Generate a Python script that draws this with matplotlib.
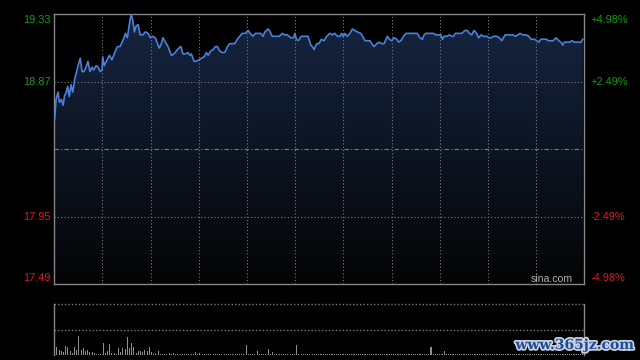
import matplotlib
matplotlib.use("Agg")
import matplotlib.pyplot as plt
import numpy as np
from matplotlib.patches import PathPatch
from matplotlib import patheffects

# 分時データ
minutes = [0, 0.6, 1.5, 2.1, 3.0, 3.8, 4.5, 5.1, 5.9, 6.6, 7.4, 8.2, 9.1, 9.8, 10.6, 11.6, 12.4, 13.3,
           14.2, 15.1, 16.0, 17.0, 17.7, 18.8, 19.7, 20.7, 21.5, 21.8, 22.5, 23.8, 24.8, 26.0, 27.3,
           28.5, 29.7, 30.6, 31.5, 32.1, 33.0, 33.9, 34.7, 35.5, 36.2, 37.0, 37.9, 38.8, 40.0, 41.2,
           42.4, 43.5, 44.5, 45.7, 46.5, 47.5,
           48.2, 49.2, 50.3, 51.5, 53.0, 54.2, 55.3, 56.4, 57.3, 58.3, 59.4, 60.6, 61.4, 62.1, 63.3,
           64.4, 65.5, 66.6, 67.9, 68.9, 69.7, 70.9, 72.0, 73.0, 73.9, 75.0, 76.0, 77.3, 78.5, 79.5,
           80.6, 81.8, 83.0, 84.1, 85.1, 86.0, 86.6, 87.9, 88.8, 90.1, 91.2, 92.4, 93.6, 94.7, 95.5,
           97.0, 97.9, 98.9, 100.5, 102.0, 103.5, 104.5, 105.7, 107.3, 108.5, 109.2, 109.8, 110.7,
           112.1, 113.3, 115.1, 116.4, 117.1, 117.9, 119.1, 120.1, 121.2, 122.4, 123.6, 125.1, 126.2,
           127.3, 128.5, 129.7, 130.3, 131.2, 131.8, 133.0, 134.2, 135.3, 136.4, 137.5, 139.1, 140.3,
           141.0, 142.1, 143.3, 144.1,
           145.1, 146.4, 147.5, 148.6, 149.7, 151.2, 152.1, 153.2, 154.2, 155.5, 156.2, 157.3, 158.5,
           159.7, 161.2, 162.7, 163.8, 164.8, 166.0, 167.1, 167.9, 168.8, 169.8, 170.9, 172.1, 173.3,
           174.4, 175.5, 176.2, 177.0, 178.2, 179.4, 180.5, 181.2, 182.1, 183.5, 185.0, 186.5, 187.5,
           188.5, 189.5, 190.6, 191.8,
           192.7, 193.8, 194.8, 196.4, 197.3, 198.3, 199.4, 200.9, 202.1, 203.2, 203.9, 204.8, 206.4,
           208.2, 209.4, 210.5, 211.5, 212.7, 214.2, 215.5, 216.5, 218.0, 219.1, 220.0, 221.0, 222.1,
           223.3, 224.5, 225.6, 226.6, 227.9, 229.1, 230.1, 230.9, 231.6, 232.7, 233.9, 235.1, 236.2,
           237.0, 238.2, 239.2, 240.0]
prices = [18.62, 18.75, 18.80, 18.73, 18.75, 18.71, 18.78, 18.79, 18.84, 18.77, 18.85, 18.80, 18.89,
          18.93, 18.98, 19.03, 18.94, 18.94, 18.97, 19.01, 18.94, 18.97, 18.95, 18.98, 18.97, 18.94,
          18.95, 19.04, 18.98, 19.02, 19.05, 19.02, 19.07, 19.11, 19.11, 19.14, 19.17, 19.20, 19.17,
          19.26, 19.33, 19.29, 19.21, 19.25, 19.26, 19.19, 19.19, 19.21, 19.20, 19.17, 19.18, 19.17,
          19.14, 19.10,
          19.12, 19.17, 19.14, 19.11, 19.05, 19.06, 19.08, 19.10, 19.11, 19.06, 19.06, 19.07, 19.05,
          19.06, 19.01, 19.01, 19.02, 19.03, 19.04, 19.07, 19.05, 19.08, 19.09, 19.11, 19.11, 19.08,
          19.07, 19.07, 19.11, 19.13, 19.13, 19.13, 19.16, 19.18, 19.20, 19.20, 19.20, 19.22, 19.20,
          19.18, 19.20, 19.20, 19.20, 19.18, 19.21,
          19.23, 19.21, 19.18, 19.18, 19.18, 19.20, 19.19, 19.19, 19.17, 19.17, 19.20, 19.16, 19.15,
          19.18, 19.18, 19.18, 19.12, 19.11, 19.09, 19.13, 19.13, 19.16, 19.15, 19.18, 19.20, 19.19,
          19.20, 19.18, 19.18, 19.20, 19.18, 19.20, 19.18, 19.20, 19.23, 19.22, 19.21, 19.20, 19.17,
          19.15, 19.15, 19.15, 19.13,
          19.11, 19.13, 19.14, 19.13, 19.13, 19.18, 19.16, 19.15, 19.17, 19.16, 19.14, 19.15, 19.18,
          19.20, 19.20, 19.20, 19.20, 19.20, 19.17, 19.16, 19.19, 19.20, 19.20, 19.20, 19.20, 19.19,
          19.19, 19.19, 19.16, 19.18, 19.18, 19.19, 19.18, 19.18, 19.20, 19.20, 19.20, 19.22, 19.22,
          19.20, 19.19, 19.22, 19.20,
          19.17, 19.19, 19.18, 19.18, 19.17, 19.17, 19.18, 19.18, 19.17, 19.15, 19.17, 19.19, 19.19,
          19.19, 19.18, 19.19, 19.20, 19.19, 19.19, 19.18, 19.16, 19.16, 19.15, 19.14, 19.16, 19.16,
          19.16, 19.15, 19.15, 19.15, 19.17, 19.15, 19.14, 19.12, 19.14, 19.14, 19.14, 19.15, 19.14,
          19.14, 19.14, 19.14, 19.16]

# 出来高（相対値、1分ごと）
volume = [9, 7.7, 5, 4.3, 3.3, 9, 7.7, 4.3, 1.7, 7.7, 5, 19, 5, 6.7, 4.3, 5, 3.3, 2.7, 2.3, 1.3,
          1, 1.3, 12.3, 1.7, 4.3, 11, 2.3, 1.7, 1.3, 6.7, 2.7, 6.7, 5.7, 18, 6.7, 12.3, 7.7, 2.3, 4, 4,
          3, 4.7, 4, 8, 2.7, 1.3, 1.7, 3.7, 1, 1.3, 1, 1, 2, 1, 2, 1, 1.3, 1, 1, 1.3,
          1, 1, 1.3, 1, 2.7, 1, 2, 1, 1, 1.3, 1, 1, 1.3, 1, 1, 1, 1.3, 1, 1, 1,
          1, 1.3, 1, 1, 1.3, 1, 1, 10, 1.3, 1, 1, 1, 4, 1, 1, 1.3, 1, 5.7, 1.3, 3,
          1, 1, 1.3, 1, 1, 1, 1.3, 1, 1, 1, 10, 1.3, 1, 1.3, 1, 1, 1, 1.3, 1, 1,
          1, 1.3, 1, 1, 1, 1.3, 1, 1, 1.3, 1, 1, 1, 1.3, 1, 1, 1, 1, 1.3, 1, 1,
          1, 1, 1.3, 1, 1, 1, 1.3, 1, 1, 1, 1.3, 1, 1, 1, 1, 1.3, 1, 1, 1, 1.3,
          1, 1, 1, 1.3, 1, 1, 1, 1, 1.3, 1, 1, 7.7, 1, 1.3, 1, 1, 1, 4, 1, 1.3,
          1, 1, 1.3, 1, 1, 1, 1.3, 1, 1, 1.3, 1, 1, 1, 1.3, 1, 1, 1, 1.3, 1, 1,
          1, 1.3, 1, 1, 1, 1.3, 1, 1, 1.3, 1, 1, 1, 1.3, 1, 1, 1, 1.3, 1, 1, 1,
          1, 1, 1.3, 1, 1, 1.3, 1, 1, 1, 1.3, 1, 1, 1, 1.3, 1, 1, 1, 1.3, 1, 1, 1.3]

prev_close = 18.41
y_min, y_max = 17.49, 19.33
left_vals = [19.33, 18.87, 17.95, 17.49]
left_labels = ["19.33", "18.87", "17.95", "17.49"]
right_labels = ["+4.98%", "+2.49%", "-2.49%", "-4.98%"]

GREEN = "#139a13"
RED = "#dd1a1a"
GRID = "#7a7a7a"
SPINE = "#858585"
FONT = "Liberation Sans"

fig = plt.figure(figsize=(6.4, 3.6), dpi=100, facecolor="black")
ax = fig.add_axes([54.3 / 640, 75.7 / 360, 530 / 640, 270 / 360], facecolor="black")
ax2 = fig.add_axes([54.3 / 640, 5 / 360, 530 / 640, 50.7 / 360], facecolor="black")

x0, x1 = -0.2, 240.7
ax.set_xlim(x0, x1)
ax.set_ylim(y_min, y_max)

# グラデーション塗りつぶし
poly = ax.fill_between(minutes, prices, y_min, color="none", lw=0)
patch = PathPatch(poly.get_paths()[0], transform=ax.transData, facecolor="none", edgecolor="none")
ax.add_patch(patch)
top_c = np.array([0.085, 0.145, 0.255])
bot_c = np.array([0.015, 0.015, 0.02])
t = np.linspace(0, 1, 256).reshape(-1, 1, 1)
grad = top_c * (1 - t) + bot_c * t
im = ax.imshow(grad, extent=[x0, x1, y_min, y_max], aspect="auto", origin="upper", zorder=1)
im.set_clip_path(patch)

# グリッド
for k in range(1, 11):
    ax.axvline(x0 + k * (x1 - x0) / 11, color=GRID, lw=0.8, ls=(0, (1, 2)), zorder=2)
for v in [18.87, 17.95]:
    ax.axhline(v, color=GRID, lw=0.8, ls=(0, (1, 2)), zorder=2)
ax.axhline(prev_close, color=GRID, lw=0.8, ls=(0, (4, 2, 1, 2)), zorder=2)

ax.plot(minutes, prices, color="#4a80d8", lw=1.2, zorder=3)

ax.set_xticks([])
ax.set_yticks([])
for s in ax.spines.values():
    s.set_color(SPINE)
    s.set_linewidth(1)

# 軸ラベル
ytr = ax.get_yaxis_transform()
for i, (v, ll, rl) in enumerate(zip(left_vals, left_labels, right_labels)):
    col = GREEN if v > prev_close else RED
    dy = 0
    if i == 0:
        dy = -4.3
    elif i == len(left_vals) - 1:
        dy = 4.5
    ax.annotate(ll, (-0.006, v), xycoords=ytr, xytext=(0, dy), textcoords="offset points",
                ha="right", va="center", color=col, fontsize=7.9, family=FONT, annotation_clip=False)
    ax.annotate(rl, (1.0108, v), xycoords=ytr, xytext=(0, dy), textcoords="offset points",
                ha="left", va="center", color=col, fontsize=7.9, family=FONT, annotation_clip=False)

ax.text(0.979, 0.0185, "sina.com", transform=ax.transAxes, ha="right", va="center",
        color="#b0b0b0", fontsize=7.6, family=FONT, zorder=4)

# 出来高パネル
ax2.set_xlim(x0, x1)
ax2.set_ylim(0, 51)
ax2.bar(range(len(volume)), volume, width=0.5, color="#8f8f8f", lw=0, antialiased=False)
ax2.axhline(51, color=GRID, lw=1, ls=(0, (1, 1.5)), clip_on=False)
ax2.axhline(25.5, color=GRID, lw=1, ls=(0, (1, 1.5)))
ax2.set_xticks([])
ax2.set_yticks([])
ax2.spines["top"].set_visible(False)
ax2.spines["bottom"].set_visible(False)
for side in ["left", "right"]:
    ax2.spines[side].set_color(SPINE)
    ax2.spines[side].set_linewidth(1)

fig.text(0.898, 0.0417, "www.365jz.com", ha="center", va="center", color="#1e4c96",
         fontsize=10, family="DejaVu Serif", weight="bold",
         path_effects=[patheffects.withStroke(linewidth=2.5, foreground="#c8d0e0")])

fig.savefig("out.png", dpi=100, facecolor="black")
